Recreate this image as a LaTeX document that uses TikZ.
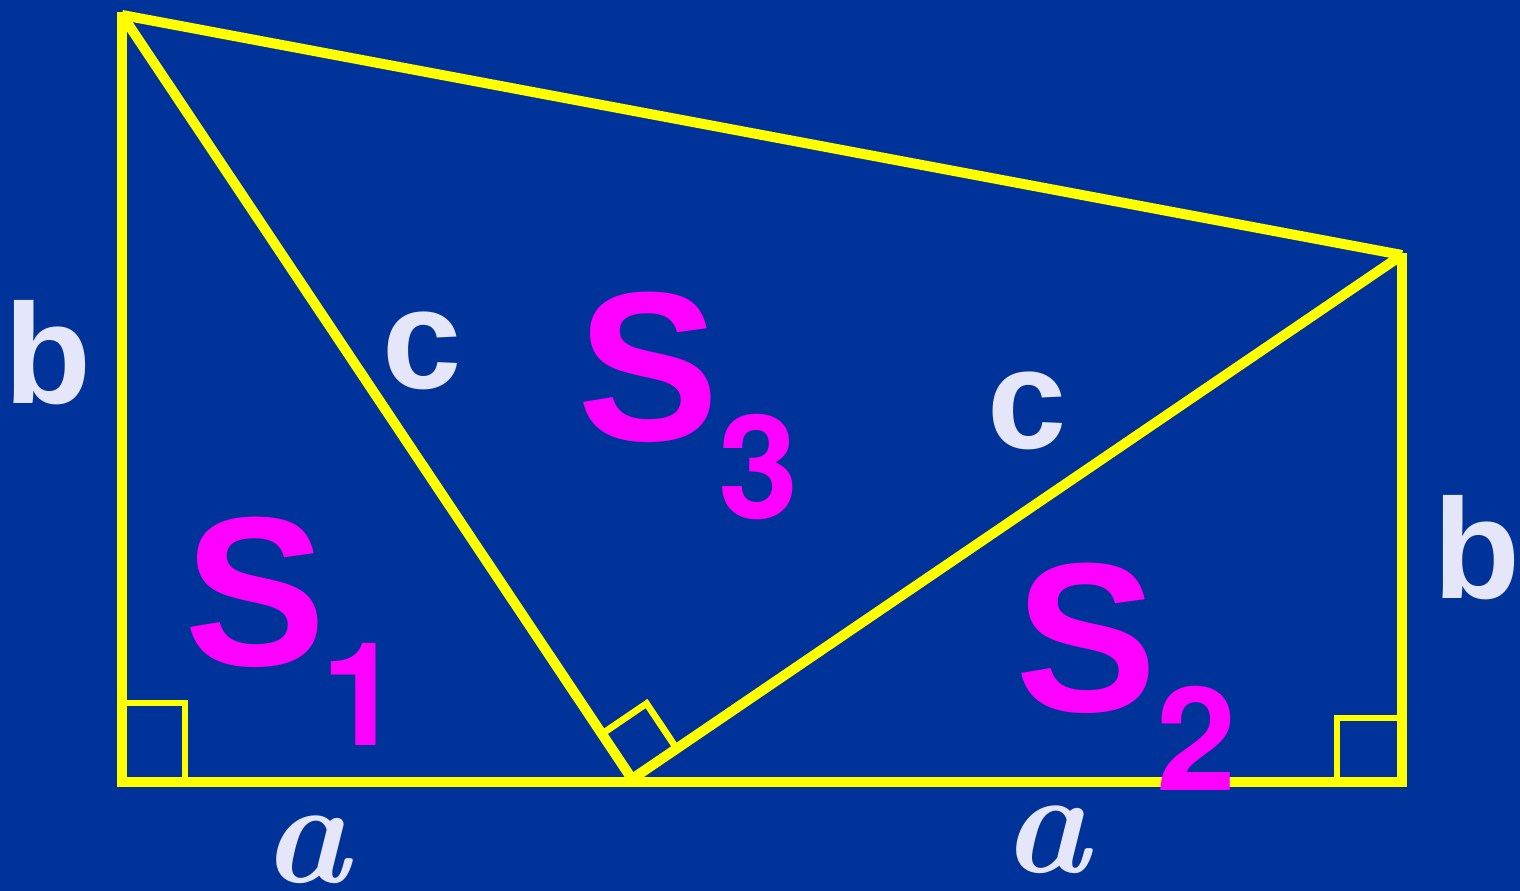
\documentclass[tikz,border=0pt]{standalone}
\usepackage{fontspec}
\setmainfont{Liberation Sans}
\newfontfamily\lmfont{Latin Modern Roman}
\newfontfamily\digfont{TeX Gyre Heros}
\usetikzlibrary{calc}
\definecolor{bgblue}{RGB}{0,51,153}
\definecolor{lineyellow}{RGB}{255,255,0}
\definecolor{lav}{RGB}{230,230,250}
\definecolor{mag}{RGB}{255,0,255}
\tikzset{
  side/.style={draw=lineyellow, line width=5.7pt, line cap=butt},
  mark90/.style={draw=lineyellow, line width=3.8pt, line cap=butt, line join=miter},
  lbl/.style={text=lav, font=\bfseries\fontsize{81}{81}\selectfont, inner sep=0pt, anchor=base},
  alab/.style={text=lav, font=\lmfont\bfseries\itshape\fontsize{84}{84}\selectfont, inner sep=0pt, anchor=base},
  sbig/.style={text=mag, font=\bfseries\fontsize{121}{121}\selectfont, inner sep=0pt, anchor=base},
  ssub/.style={text=mag, font=\digfont\bfseries\fontsize{82}{82}\selectfont, inner sep=0pt, anchor=base}
}
\begin{document}
\begin{tikzpicture}[x=0.02cm, y=-0.02cm]
\fill[bgblue] (0,0) rectangle (1520,891);
\useasboundingbox (0,0) rectangle (1520,891);
% vertices
\coordinate (A) at (122,15);
\coordinate (B) at (122,782);
\coordinate (M) at (632,779);
\coordinate (R) at (1402,782);
\coordinate (T) at (1402,255);
% right-angle marks
\coordinate (L1) at (122,703);
\coordinate (L2) at (185,703);
\coordinate (L3) at (185,782);
\draw[mark90] (L1) -- (L2) -- (L3);
\coordinate (R1) at (1337,782);
\coordinate (R2) at (1337,718);
\coordinate (R3) at (1402,718);
\draw[mark90] (R1) -- (R2) -- (R3);
\coordinate (P1) at ($(M)!0.059!(A)$);
\coordinate (P2) at ($(M)!0.058!(T)$);
\coordinate (PC) at ($(P1)+(P2)-(M)$);
\draw[mark90] (P1) -- (PC) -- (P2);
% sides
\draw[side] ($(A)+(0,-3)$) -- ($(B)+(0,5)$);
\draw[side] ($(B)+(-3,0)$) -- ($(R)+(5,0)$);
\draw[side] ($(T)+(0,-2)$) -- ($(R)+(0,5)$);
\draw[side] (A) -- (T);
\draw[side] (A) -- (M);
\draw[side] (M) -- (T);
% labels
\node[lbl] (bl) at (48,403) {b};
\node[lbl] (br) at (1477,598) {b};
\node[lbl] (cl) at (422,389) {c};
\node[lbl] (cr) at (1027,448) {c};
\node[alab] (al) at (306,882) {a};
\node[alab] (ar) at (1046,872) {a};
\node[sbig] (s3) at (648,440) {S};
\node[ssub] (n3) at (759,518) {3};
\node[sbig] (s1) at (255,665) {S};
\node[ssub] (n1) at (362,745) {1};
\node[sbig] (s2) at (1086,711) {S};
\node[ssub] (n2) at (1197,790) {2};
\end{tikzpicture}
\end{document}
